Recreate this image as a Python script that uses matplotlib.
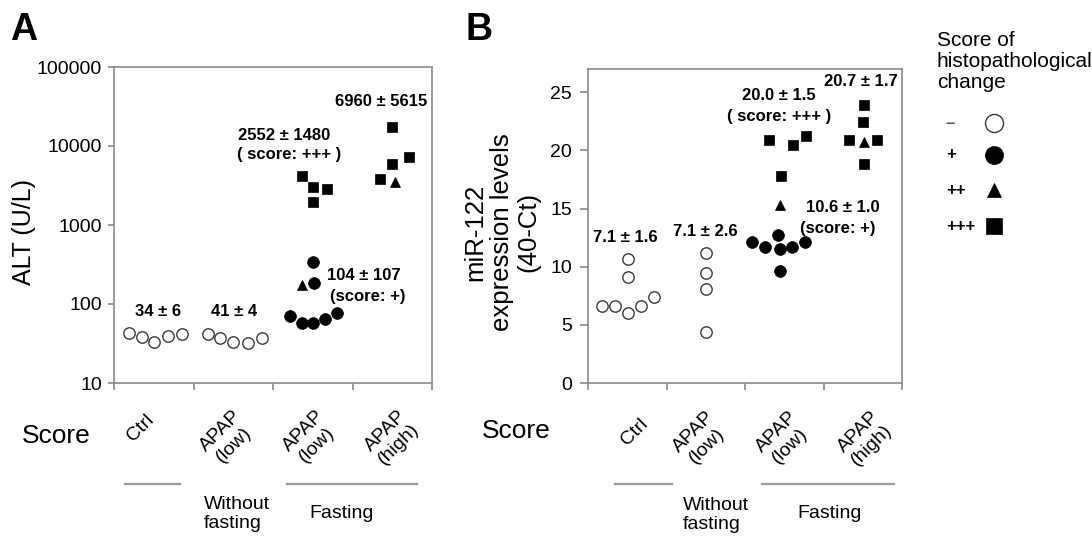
import matplotlib
matplotlib.use("Agg")
import matplotlib.pyplot as plt

plt.rcParams["font.family"] = ["Liberation Sans", "DejaVu Sans"]

W, H = 1092, 537

# ---------------------------------------------------------------------------
# Data
# score: 0 = "-", 1 = "+", 2 = "++", 3 = "+++"
# ---------------------------------------------------------------------------
CATEGORIES = ["Ctrl", "APAP\n(low)", "APAP\n(low)", "APAP\n(high)"]

# Panel A: ALT (U/L)
alt_ctrl_val = [43, 38, 33, 39, 42]
alt_ctrl_score = [0, 0, 0, 0, 0]
alt_nf_val = [42, 37, 33, 32, 37]
alt_nf_score = [0, 0, 0, 0, 0]
alt_low_val = [70, 57, 57, 65, 77, 340, 185, 174, 4170, 3020, 2860, 1950]
alt_low_score = [1, 1, 1, 1, 1, 1, 1, 2, 3, 3, 3, 3]
alt_high_val = [17400, 7250, 5900, 3830, 3500]
alt_high_score = [3, 3, 3, 3, 2]

# Panel B: miR-122 expression levels (40-Ct)
mir_ctrl_val = [6.6, 6.6, 6.0, 6.6, 7.4, 9.1, 10.7]
mir_ctrl_score = [0, 0, 0, 0, 0, 0, 0]
mir_nf_val = [11.2, 9.5, 8.1, 4.4]
mir_nf_score = [0, 0, 0, 0]
mir_low_val = [12.1, 11.7, 12.7, 11.5, 11.7, 12.1, 9.6, 15.3, 20.9, 17.8, 20.5, 21.2]
mir_low_score = [1, 1, 1, 1, 1, 1, 1, 2, 3, 3, 3, 3]
mir_high_val = [23.9, 22.4, 20.9, 20.9, 18.8, 20.7]
mir_high_score = [3, 3, 3, 3, 3, 2]

# group summaries (mean ± SD)
alt_summary = ["34 ± 6", "41 ± 4", "2552 ± 1480", "( score: +++ )",
               "104 ± 107", "(score: +)", "6960 ± 5615"]
mir_summary = ["7.1 ± 1.6", "7.1 ± 2.6", "20.0 ± 1.5", "( score: +++ )",
               "10.6 ± 1.0", "(score: +)", "20.7 ± 1.7"]

LEGEND_SCORES = ["\u2013", "+", "++", "+++"]

# horizontal scatter of the dots inside each column
alt_ctrl_dx = [-0.31, -0.15, 0.0, 0.18, 0.35]
alt_nf_dx = [-0.32, -0.17, 0.0, 0.18, 0.36]
alt_low_dx = [-0.29, -0.14, 0.0, 0.16, 0.31, 0.0, 0.02, -0.14, -0.14, 0.0, 0.18, 0.0]
alt_high_dx = [0.0, 0.21, 0.0, -0.15, 0.03]
mir_ctrl_dx = [-0.32, -0.15, 0.01, 0.18, 0.34, 0.01, 0.01]
mir_nf_dx = [0.0, 0.0, 0.0, 0.0]
mir_low_dx = [-0.41, -0.24, -0.08, -0.06, 0.10, 0.27, -0.06, -0.06, -0.20, -0.04, 0.11, 0.28]
mir_high_dx = [0.01, 0.0, -0.17, 0.18, 0.01, 0.01]

# ---------------------------------------------------------------------------
# Style
# ---------------------------------------------------------------------------
SPINE = "#8a8a8a"
MARKER_STYLE = {
    0: dict(marker="o", ms=8.2, mfc="white", mec="#3a3a3a", mew=1.0),
    1: dict(marker="o", ms=8.5, mfc="black", mec="black", mew=0.5),
    2: dict(marker="^", ms=7.8, mfc="black", mec="black", mew=0.5),
    3: dict(marker="s", ms=7.8, mfc="black", mec="black", mew=0.5),
}


def px(x0, y0, x1, y1):
    """Axes rectangle from pixel corners (top-left origin)."""
    return [x0 / W, 1 - y1 / H, (x1 - x0) / W, (y1 - y0) / H]


def draw_groups(ax, groups):
    for i, (vals, scores, dxs) in enumerate(groups):
        for v, s, dx in zip(vals, scores, dxs):
            ax.plot(i + 0.5 + dx, v, linestyle="none", zorder=3,
                    clip_on=False, **MARKER_STYLE[s])


def style_axes(ax, tick_len, pad, tick_size):
    for sp in ax.spines.values():
        sp.set_color(SPINE)
        sp.set_linewidth(1.2)
    ax.set_xlim(0, 4)
    ax.set_xticks([0, 1, 2, 3, 4])
    ax.set_xticklabels([])
    ax.tick_params(axis="both", direction="out", color=SPINE, width=1.2,
                   length=tick_len, pad=pad, labelsize=tick_size)
    ax.tick_params(axis="x", length=5)
    ax.minorticks_off()


fig = plt.figure(figsize=(W / 100, H / 100), dpi=100)

# ---------------- Panel A ----------------
axA = fig.add_axes(px(114, 67, 432, 383))
axA.set_yscale("log")
axA.set_ylim(10, 100000)
draw_groups(axA, [
    (alt_ctrl_val, alt_ctrl_score, alt_ctrl_dx),
    (alt_nf_val, alt_nf_score, alt_nf_dx),
    (alt_low_val, alt_low_score, alt_low_dx),
    (alt_high_val, alt_high_score, alt_high_dx),
])
style_axes(axA, 4.5, 4.0, 14)
axA.set_yticks([10, 100, 1000, 10000, 100000])
axA.set_yticklabels(["10", "100", "1000", "10000", "100000"])
axA.minorticks_off()
axA.set_ylabel("ALT (U/L)", fontsize=18, va="center")
axA.yaxis.set_label_coords((24 - 114) / 318, (383 - 232) / 316)

# ---------------- Panel B ----------------
axB = fig.add_axes(px(588, 69, 902, 383))
axB.set_ylim(0, 27)
draw_groups(axB, [
    (mir_ctrl_val, mir_ctrl_score, mir_ctrl_dx),
    (mir_nf_val, mir_nf_score, mir_nf_dx),
    (mir_low_val, mir_low_score, mir_low_dx),
    (mir_high_val, mir_high_score, mir_high_dx),
])
style_axes(axB, 6.0, 5.5, 14)
axB.set_yticks([0, 5, 10, 15, 20, 25])
axB.set_ylabel("miR-122\nexpression levels\n(40-Ct)", fontsize=18.5,
               va="center", linespacing=1.15)
axB.yaxis.set_label_coords((502 - 588) / 314, (383 - 232) / 314)

# ---------------- overlay in pixel coordinates ----------------
ov = fig.add_axes([0, 0, 1, 1])
ov.set_xlim(0, W)
ov.set_ylim(H, 0)
ov.axis("off")
ov.patch.set_visible(False)

ov.text(10, 40, "A", fontsize=27, fontweight="bold", va="baseline")
ov.text(466, 40, "B", fontsize=27, fontweight="bold", va="baseline")

ann = dict(fontsize=12, fontweight="bold", ha="center", va="center")
for label, (x, y) in zip(alt_summary, [(158, 312), (234, 312), (284, 135),
                                       (289, 155), (364, 276), (368, 297),
                                       (381, 102)]):
    ov.text(x, y, label, **ann)
for label, (x, y) in zip(mir_summary, [(625, 238), (705, 232), (779, 95),
                                       (779, 116), (843, 207), (838, 228),
                                       (861, 82)]):
    ov.text(x, y, label, **ann)

# category labels, group bars and captions
cat_kw = dict(fontsize=14, rotation=45, ha="center", va="center",
              multialignment="center", linespacing=1.12)
for label, (x, y) in zip(CATEGORIES, [(141, 428), (227, 438), (310, 438), (392, 438)]):
    ov.text(x, y, label, **cat_kw)
for label, (x, y) in zip(CATEGORIES, [(635, 432), (700, 439), (783, 439), (865, 439)]):
    ov.text(x, y, label, **cat_kw)

for x0, x1 in [(125, 180), (287, 417), (615, 672), (762, 894)]:
    ov.plot([x0, x1], [484, 484], color="#9a9a9a", lw=1.6)

for x, y in [(56, 436), (516, 431)]:
    ov.text(x, y, "Score", fontsize=19, ha="center", va="center")
for x, y in [(204, 514), (683, 515)]:
    ov.text(x, y, "Without\nfasting", fontsize=14, ha="left", va="center",
            linespacing=1.1)
for x, y in [(342, 513), (830, 513)]:
    ov.text(x, y, "Fasting", fontsize=14, ha="center", va="center")

# legend
ov.text(937, 31, "Score of\nhistopathological\nchange", fontsize=15,
        ha="left", va="top", linespacing=1.12)
leg_ms = {0: 13, 1: 13, 2: 10, 3: 11}
for s, (label, y) in enumerate(zip(LEGEND_SCORES, [123, 155, 190, 226])):
    ov.text(946, y, label, fontsize=12, fontweight="bold", ha="left", va="center",
            color="#555555" if s == 0 else "black")
    st = dict(MARKER_STYLE[s])
    st["ms"] = leg_ms[s]
    ov.plot([994], [y], linestyle="none", **st)

fig.savefig("out.png", dpi=100)
